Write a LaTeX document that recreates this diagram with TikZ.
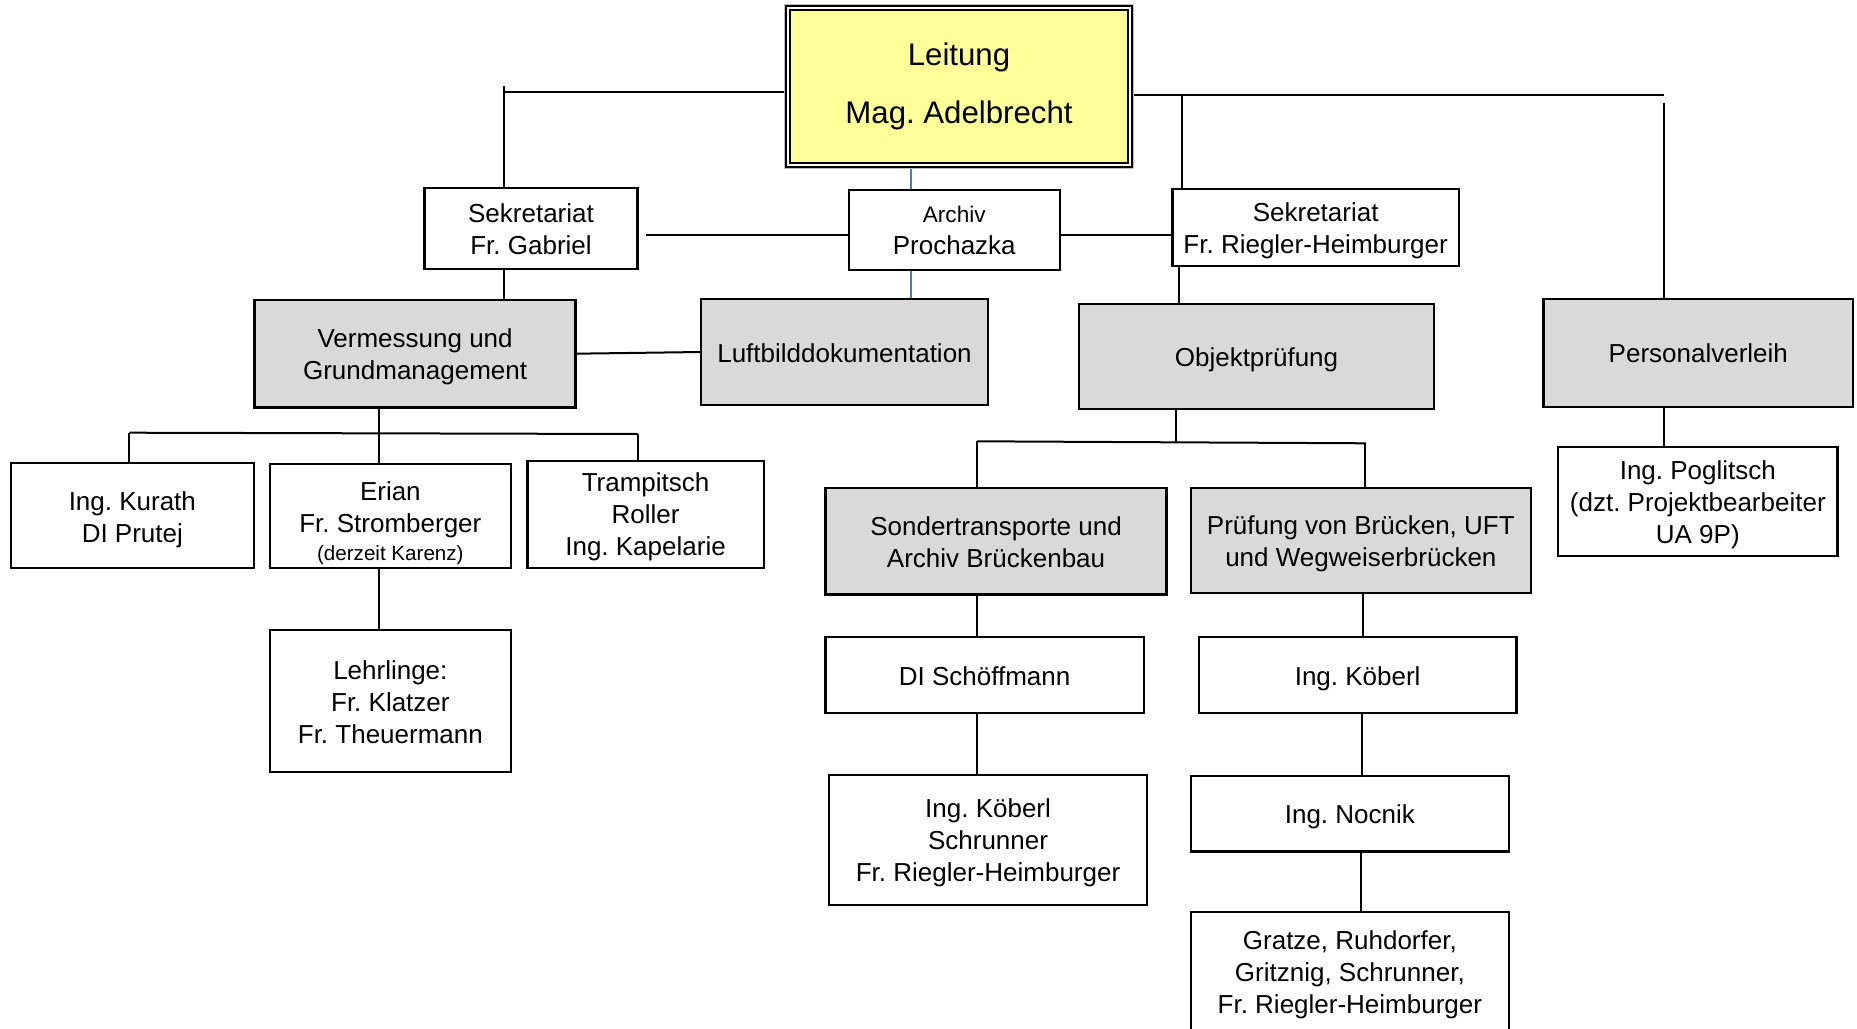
\documentclass[tikz,border=0pt]{standalone}
\usepackage{fontspec}
\setmainfont{Liberation Sans}
\usetikzlibrary{backgrounds}
\frenchspacing
\definecolor{leiyellow}{HTML}{FFFF99}
\definecolor{boxgray}{HTML}{D9D9D9}
\definecolor{linkblue}{HTML}{4A7EBB}
% \bx{name}{style}{x1}{y1}{x2}{y2}{text}{text shift down, px}
\newcommand\bx[8]{%
  \node[#2, minimum width={(#5-#3)*0.5pt}, minimum height={(#6-#4)*0.5pt}]
    (#1) at ({(#3+#5)/2},{(#4+#6)/2}) {};
  \node (#1t) at ({(#3+#5)/2},{(#4+#6)/2+#8}) {#7};}
\begin{document}
\begin{tikzpicture}[x=0.5pt,y=-0.5pt,
  every node/.style={inner sep=0pt, outer sep=0pt, align=center,
    font=\fontsize{13pt}{16pt}\selectfont},
  wbox/.style={draw, line width=1.15pt, fill=white},
  gbox/.style={draw, line width=1.15pt, fill=boxgray},
  conn/.style={line width=1pt},
  blueconn/.style={line width=0.7pt, draw=linkblue}]
\useasboundingbox (0,0) rectangle (1857,1028);
\clip (0,0) rectangle (1857,1028);

% Leitung
\node[draw=black, line width=1pt, double=white, double distance=1pt,
  fill=leiyellow, minimum width={(1129.7-788.3)*0.5pt},
  minimum height={(164.8-8.3)*0.5pt},
  font=\fontsize{15.6pt}{29pt}\selectfont]
  (lei) at ({(788.3+1129.7)/2},{(8.3+164.8)/2}) {Leitung\\Mag. Adelbrecht};
\draw[gray!50, line width=0.5pt] ([shift={(-3.8,3.8)}]lei.south west) rectangle ([shift={(3.8,-3.8)}]lei.north east);

% boxes
\bx{gab}{wbox}{424.5}{188.3}{637.5}{269.3}{Sekretariat\\Fr. Gabriel}{0}
\bx{arc}{wbox}{848.7}{190}{1059.8}{270}{{\fontsize{11.3pt}{16pt}\selectfont Archiv}\\Prochazka}{0.5}
\bx{rie}{wbox}{1172.5}{189.3}{1458.8}{265.7}{Sekretariat\\Fr. Riegler-Heimburger}{3.5}
\bx{ver}{gbox}{254.6}{300}{575.6}{407.4}{Vermessung und\\Grundmanagement}{3.5}
\bx{luf}{gbox}{701}{299}{988}{405}{Luftbilddokumentation}{1}
\bx{obj}{gbox}{1079}{304}{1434}{409}{Objektprüfung}{3.5}
\bx{per}{gbox}{1543.6}{299.3}{1853}{406.7}{Personalverleih}{0}
\bx{kur}{wbox}{11}{462.7}{253.7}{567.7}{Ing. Kurath\\DI Prutej}{4.5}
\bx{eri}{wbox}{269.7}{464.3}{511}{568.3}{Erian\\Fr. Stromberger\\[-2pt]{\fontsize{10.3pt}{13pt}\selectfont (derzeit Karenz)}}{6.5}
\bx{tra}{wbox}{527.4}{461.3}{763.7}{567.7}{Trampitsch\\Roller\\Ing. Kapelarie}{2.5}
\bx{leh}{wbox}{269.7}{630}{511}{771.7}{Lehrlinge:\\Fr. Klatzer\\Fr. Theuermann}{1}
\bx{son}{gbox}{825.5}{488}{1166.6}{594.5}{Sondertransporte und\\Archiv Brückenbau}{1}
\bx{pru}{gbox}{1191}{487.9}{1530.7}{593.3}{Prüfung von Brücken, UFT\\und Wegweiserbrücken}{3.5}
\bx{sch}{wbox}{825.5}{637}{1143.7}{712.7}{DI Schöffmann}{1}
\bx{ikb}{wbox}{1198.8}{637}{1516.5}{712.7}{Ing. Köberl}{3.5}
\bx{ksr}{wbox}{829.2}{774.8}{1146.9}{904.7}{Ing. Köberl\\Schrunner\\Fr. Riegler-Heimburger}{3.5}
\bx{noc}{wbox}{1191}{775.7}{1508.7}{851.6}{Ing. Nocnik}{3.5}
\bx{gra}{wbox}{1191}{911.7}{1508.7}{1036}{Gratze, Ruhdorfer,\\Gritznig, Schrunner,\\Fr. Riegler-Heimburger}{1}
\bx{pog}{wbox}{1558}{446.7}{1837.6}{555.7}{Ing. Poglitsch\\(dzt. Projektbearbeiter\\UA 9P)}{3.5}

% junction coordinates
\coordinate (jL) at (504,92);
\coordinate (jLt) at (504,86);
\coordinate (jR) at (1664,95);
\coordinate (jRt) at (1663.5,102.7);
\coordinate (jM) at (1181.5,95);
\coordinate (jM2) at (1178.5,0);
\coordinate (jB) at (911,0);
\coordinate (jG) at (645.5,235);
\coordinate (jV) at (378.5,433);
\coordinate (hV1) at (129.4,432.7);
\coordinate (hV2) at (637.8,434);
\coordinate (jO) at (1176,441.5);
\coordinate (hO1) at (977,441.3);
\coordinate (hO2) at (1366,443.3);
\coordinate (hO3) at (1364.5,443.3);
\coordinate (cR1) at (1362.5,0);
\coordinate (cR2) at (1361.8,0);
\coordinate (cR3) at (1361,0);

% connectors
\begin{pgfonlayer}{background}
\fill[white] (0,0) rectangle (1857,1028);
\draw[conn] (jL) -- (jL -| lei.west);
\draw[conn] (jLt) -- (jLt |- gab.north);
\draw[conn] (jR -| lei.east) -- (jR);
\draw[conn] (jRt) -- (jRt |- per.north);
\draw[conn] (jM) -- (jM |- rie.north);
\draw[conn] (jM2 |- rie.south) -- (jM2 |- obj.north);
\draw[blueconn] (jB |- lei.south) -- (jB |- arc.north);
\draw[blueconn] (jB |- arc.south) -- (jB |- luf.north);
\draw[conn] (jG) -- (jG -| arc.west);
\draw[conn] (jG -| arc.east) -- (jG -| rie.west);
\draw[conn] (jLt |- gab.south) -- (jLt |- ver.north);
\draw[conn] (ver.east) -- (luf.west);
\draw[conn] (jV |- ver.south) -- (jV |- eri.north);
\draw[conn] (hV1) -- (hV2);
\draw[conn] (hV1) -- (hV1 |- kur.north);
\draw[conn] (hV2) -- (hV2 |- tra.north);
\draw[conn] (jV |- eri.south) -- (jV |- leh.north);
\draw[conn] (jO |- obj.south) -- (jO);
\draw[conn] (hO1) -- (hO2);
\draw[conn] (hO1) -- (hO1 |- son.north);
\draw[conn] (hO3) -- (hO3 |- pru.north);
\draw[conn] (hO1 |- son.south) -- (hO1 |- sch.north);
\draw[conn] (hO1 |- sch.south) -- (hO1 |- ksr.north);
\draw[conn] (cR1 |- pru.south) -- (cR1 |- ikb.north);
\draw[conn] (cR2 |- ikb.south) -- (cR2 |- noc.north);
\draw[conn] (cR3 |- noc.south) -- (cR3 |- gra.north);
\draw[conn] (jRt |- per.south) -- (jRt |- pog.north);
\end{pgfonlayer}
\end{tikzpicture}
\end{document}
